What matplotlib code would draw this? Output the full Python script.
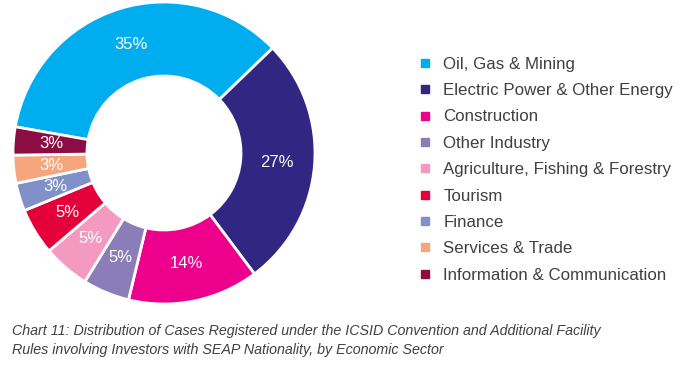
import matplotlib.pyplot as plt
from matplotlib.lines import Line2D

plt.rcParams['font.family'] = ['Liberation Sans', 'DejaVu Sans']

# 数据
sectors = ['Oil, Gas & Mining', 'Electric Power & Other Energy', 'Construction',
           'Other Industry', 'Agriculture, Fishing & Forestry', 'Tourism',
           'Finance', 'Services & Trade', 'Information & Communication']
shares = [35, 27, 14, 5, 5, 5, 3, 3, 3]
colors = ['#00AEEF', '#312783', '#EC008C', '#8B7DB8', '#F49AC1',
          '#E4003A', '#8090C8', '#F7A57C', '#8B0D44']
caption = ('Chart 11: Distribution of Cases Registered under the ICSID Convention and Additional Facility\n'
           'Rules involving Investors with SEAP Nationality, by Economic Sector')

W, H = 692, 365
fig = plt.figure(figsize=(W / 100, H / 100), dpi=100)

# 环形图
cx, cy, r = 164, 153, 151
ax = fig.add_axes([(cx - r) / W, (H - cy - r) / H, 2 * r / W, 2 * r / H])
wedges, texts, autotexts = ax.pie(
    shares, colors=colors, startangle=170, counterclock=False,
    radius=1, autopct='%.0f%%', pctdistance=0.75,
    wedgeprops=dict(width=0.49, edgecolor='white', linewidth=2),
    textprops=dict(color='white', fontsize=12))
ax.set_xlim(-1, 1)
ax.set_ylim(-1, 1)

# 图例
handles = [Line2D([], [], marker='s', linestyle='none', markersize=6,
                  markerfacecolor=c, markeredgecolor=c) for c in colors]
fig.legend(handles, sectors, loc='upper left', bbox_to_anchor=(411 / W, 1 - 50 / H),
           frameon=False, fontsize=12.2, labelspacing=0.67, handlelength=0.9,
           handletextpad=0.6, labelcolor='#404040', borderaxespad=0)

# 图表说明
fig.text(12 / W, 1 - 354 / H, caption, ha='left', va='baseline', fontsize=10.3,
         style='italic', color='#404040', linespacing=1.45)

plt.savefig('out.png', dpi=100)
